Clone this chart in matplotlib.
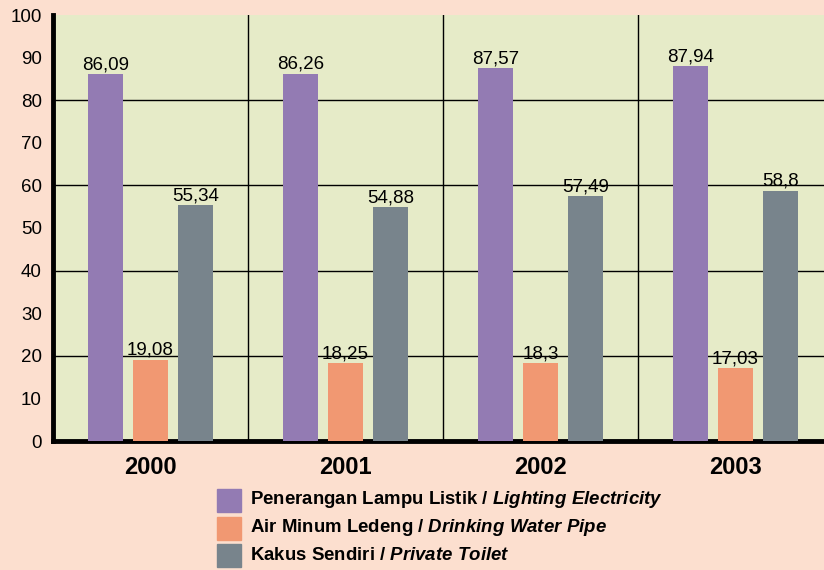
import matplotlib.pyplot as plt
import numpy as np

plt.rcParams['font.family'] = ['Liberation Sans', 'DejaVu Sans']
plt.rcParams['mathtext.fontset'] = 'custom'
plt.rcParams['mathtext.it'] = 'Liberation Sans:italic:bold'
plt.rcParams['mathtext.rm'] = 'Liberation Sans:bold'

years = ['2000', '2001', '2002', '2003']
lighting = [86.09, 86.26, 87.57, 87.94]
water = [19.08, 18.25, 18.3, 17.03]
toilet = [55.34, 54.88, 57.49, 58.8]
series_names = ['Penerangan Lampu Listik / $\\it{Lighting\\ Electricity}$',
                'Air Minum Ledeng / $\\it{Drinking\\ Water\\ Pipe}$',
                'Kakus Sendiri / $\\it{Private\\ Toilet}$']
colors = ['#937bb3', '#f19872', '#78848c']

W, H = 824, 570
fig = plt.figure(figsize=(W / 100, H / 100), dpi=100, facecolor='#fcdfcf')
left, right, top, bottom = 53, 833, 15, 441
ax = fig.add_axes([left / W, 1 - bottom / H, (right - left) / W, (bottom - top) / H])
ax.set_facecolor('#e6ebc8')

x = np.arange(len(years))
width = 0.175
offset = 0.231
for i, (vals, c) in enumerate(zip([lighting, water, toilet], colors)):
    pos = x + (i - 1) * offset
    ax.bar(pos, vals, width, color=c, zorder=3)
    for p, v in zip(pos, vals):
        ax.text(p, v + 0.2, f'{v:g}'.replace('.', ','), ha='center', va='bottom',
                fontsize=13.5, zorder=4)

ax.set_xlim(-0.5, 3.5)
ax.set_ylim(0, 100)
ax.set_yticks(range(0, 101, 10))
ax.tick_params(axis='y', length=0, labelsize=13.5, pad=8)
ax.set_xticks(x)
ax.set_xticklabels(years, fontsize=17, fontweight='bold')
ax.tick_params(axis='x', length=0, pad=11)

for yv in range(20, 100, 20):
    ax.axhline(yv, color='black', lw=1, zorder=1)
for xv in [0.5, 1.5, 2.5]:
    ax.axvline(xv, color='black', lw=1, zorder=1)

for s in ['top', 'right']:
    ax.spines[s].set_visible(False)
ax.spines['left'].set_linewidth(3.5)
ax.spines['bottom'].set_linewidth(3.5)

# legend drawn manually as squares + text
for i, (name, c) in enumerate(zip(series_names, colors)):
    yc = 501 + i * 27.5
    fig.patches.append(plt.Rectangle((217 / W, 1 - (yc + 11) / H), 24 / W, 23 / H,
                                     transform=fig.transFigure, color=c))
    fig.text(250 / W, 1 - (yc - 1) / H, name, fontsize=13.4, fontweight='bold',
             va='center', ha='left')

fig.savefig('out.png', dpi=100, facecolor=fig.get_facecolor())
